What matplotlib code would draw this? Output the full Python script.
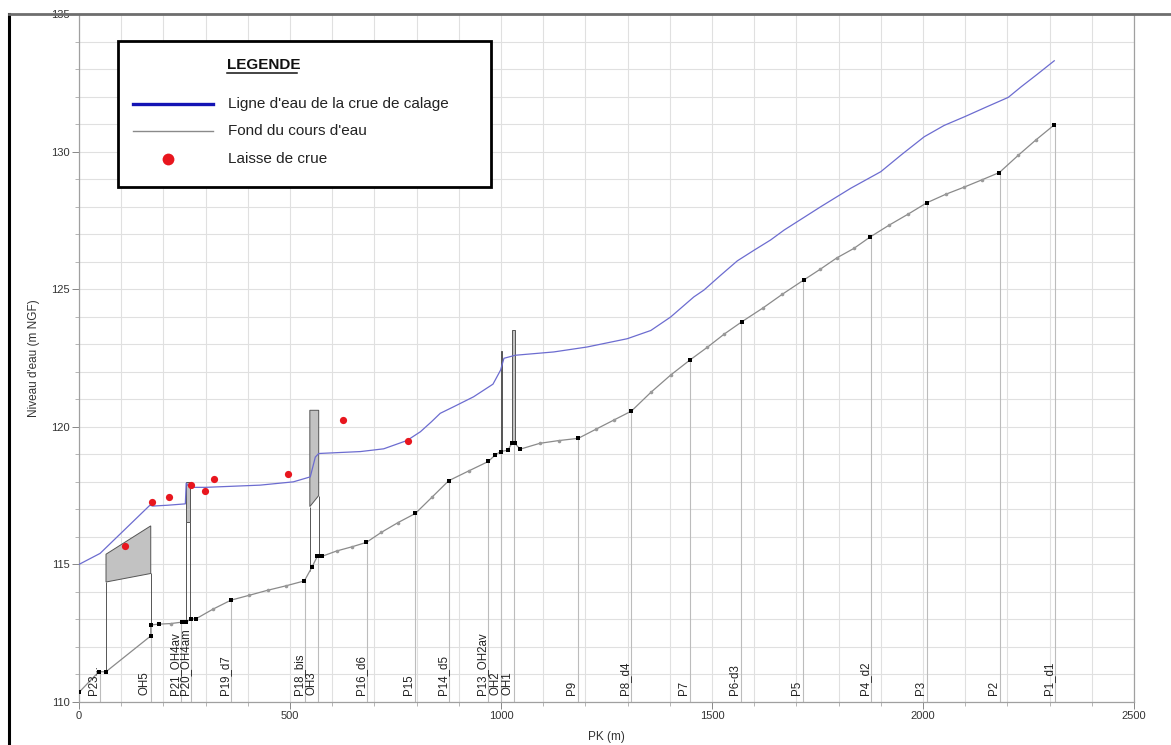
import matplotlib
matplotlib.use("Agg")
import matplotlib.pyplot as plt
import numpy as np
from matplotlib.lines import Line2D
from matplotlib.patches import Rectangle
from matplotlib.ticker import MultipleLocator

plt.rcParams["font.family"] = ["Liberation Sans", "DejaVu Sans"]

# --- fond du cours d'eau (PK m, cote m NGF, 1 = profil nommé / 0 = profil interpolé)
bed_pk = [0, 47, 64, 170, 170, 190, 217, 243, 254, 265, 277, 317, 360, 404, 447, 490,
          534, 552, 565, 572, 577, 611, 647, 681, 716, 756, 797, 837, 876, 924, 970,
          985, 999, 1016, 1026, 1032, 1046, 1092, 1137, 1183, 1226, 1268, 1309, 1355,
          1402, 1448, 1489, 1529, 1571, 1620, 1667, 1718, 1756, 1796, 1836, 1875, 1920,
          1965, 2009, 2054, 2096, 2139, 2181, 2226, 2268, 2311]
bed_z = [110.35, 111.1, 111.1, 112.4, 112.8, 112.83, 112.85, 112.9, 112.9, 113.02, 113.02,
         113.37, 113.7, 113.88, 114.06, 114.22, 114.4, 114.9, 115.3, 115.3, 115.3, 115.49,
         115.64, 115.8, 116.16, 116.52, 116.85, 117.45, 118.04, 118.4, 118.74, 118.96,
         119.1, 119.15, 119.4, 119.4, 119.19, 119.4, 119.5, 119.58, 119.92, 120.25, 120.57,
         121.25, 121.88, 122.43, 122.89, 123.37, 123.82, 124.31, 124.82, 125.34, 125.72,
         126.14, 126.48, 126.9, 127.33, 127.73, 128.14, 128.45, 128.7, 128.97, 129.24,
         129.87, 130.43, 130.97]
bed_kind = [1, 1, 1, 1, 1, 1, 0, 1, 1, 1, 1, 0, 1, 0, 0, 0, 1, 1, 1, 1, 1, 0, 0, 1, 0, 0,
            1, 0, 1, 0, 1, 1, 1, 1, 1, 1, 1, 0, 0, 1, 0, 0, 1, 0, 0, 1, 0, 0, 1, 0, 0, 1,
            0, 0, 0, 1, 0, 0, 1, 0, 0, 0, 1, 0, 0, 1]

# --- ligne d'eau de la crue de calage
ws_pk = [0, 50, 168, 175, 210, 252, 254, 262, 300, 429, 508, 548, 560, 568, 667, 722,
         777, 809, 835, 856, 888, 935, 981, 999, 1007, 1034, 1125, 1204, 1299, 1355, 1402,
         1457, 1481, 1520, 1560, 1600, 1639, 1671, 1758, 1829, 1900, 1950, 2003, 2050,
         2099, 2150, 2202, 2233, 2270, 2311]
ws_z = [115.0, 115.4, 117.15, 117.12, 117.15, 117.2, 117.95, 117.8, 117.8, 117.88, 118.0,
        118.18, 118.9, 119.03, 119.1, 119.2, 119.5, 119.82, 120.18, 120.49, 120.73, 121.09,
        121.55, 122.06, 122.49, 122.6, 122.72, 122.9, 123.2, 123.5, 123.99, 124.72, 124.97,
        125.5, 126.03, 126.42, 126.79, 127.15, 128.0, 128.67, 129.27, 129.9, 130.54,
        130.95, 131.27, 131.62, 131.97, 132.36, 132.8, 133.3]

# --- laisses de crue
fm_pk = [109, 174, 214, 265, 299, 319, 496, 625, 779]
fm_z = [115.67, 117.27, 117.45, 117.9, 117.66, 118.12, 118.3, 120.25, 119.5]

# --- ouvrages (PK gauche/droite, cote haute g/d, cote basse g/d)
ouv_pk_l = [64, 253, 547, 999, 1027]
ouv_pk_r = [170, 263, 568, 1003, 1032]
ouv_top_l = [115.37, 118.0, 120.6, 122.77, 123.52]
ouv_top_r = [116.4, 118.0, 120.6, 122.77, 123.52]
ouv_bot_l = [114.36, 116.55, 117.1, 119.1, 119.4]
ouv_bot_r = [114.67, 116.55, 117.5, 119.1, 119.4]

# --- profils nommés
prof_names = ["P23...", "OH5", "P21_OH4av", "P20_OH4am", "P19_d7", "P18_bis", "OH3",
              "P16_d6", "P15", "P14_d5", "P13_OH2av", "OH2", "OH1", "P9", "P8_d4", "P7",
              "P6-d3", "P5", "P4_d2", "P3", "P2", "P1_d1"]
prof_pk = [50, 170, 242, 265, 361, 535, 566, 682, 797, 876, 970, 1000, 1030, 1183, 1309,
           1448, 1569, 1716, 1876, 2010, 2183, 2313]

W, H = 1171, 745
fig = plt.figure(figsize=(W / 100, H / 100), dpi=100, facecolor="white")
ax = fig.add_axes([79 / W, 43 / H, 1055 / W, 688 / H])

bed_pk_a = np.asarray(bed_pk, float)
bed_z_a = np.asarray(bed_z, float)
kind = np.asarray(bed_kind)

# lignes verticales des profils nommés
ptop = np.interp(prof_pk, bed_pk_a, bed_z_a)
ax.vlines(prof_pk, 110, ptop, colors="#bcbcbc", linewidth=0.8, zorder=1.5)

# ouvrages
for l, r, tl, tr, bl, br in zip(ouv_pk_l, ouv_pk_r, ouv_top_l, ouv_top_r, ouv_bot_l, ouv_bot_r):
    ax.fill([l, r, r, l], [tl, tr, br, bl], facecolor="#c2c2c2", edgecolor="#555555",
            linewidth=0.7, zorder=2)
    zl, zr = np.interp([l, r], bed_pk_a, bed_z_a)
    ax.vlines([l, r], [zl, zr], [bl, br], colors="#555555", linewidth=0.7, zorder=2)

# ligne d'eau
ax.plot(ws_pk, ws_z, color="#6c6cd0", linewidth=0.9, zorder=3)

# fond
ax.plot(bed_pk, bed_z, color="#8a8a8a", linewidth=0.9, zorder=4)
ax.plot(bed_pk_a[kind == 0], bed_z_a[kind == 0], "o", color="#9a9a9a", markersize=2.6,
        markeredgewidth=0, zorder=5)
ax.plot(bed_pk_a[kind == 1], bed_z_a[kind == 1], "s", color="black", markersize=3.2,
        markeredgewidth=0, zorder=5)

# laisses de crue
ax.plot(fm_pk, fm_z, "o", color="#e8161e", markersize=5.2, markeredgewidth=0, zorder=6)

# noms des profils
for name, pk in zip(prof_names, prof_pk):
    ax.text(pk, 110.25, name, rotation=90, ha="right", va="bottom", fontsize=8.3,
            color="#222222", zorder=6)

ax.set_xlim(0, 2500)
ax.set_ylim(110, 135)
ax.xaxis.set_major_locator(MultipleLocator(500))
ax.xaxis.set_minor_locator(MultipleLocator(100))
ax.yaxis.set_major_locator(MultipleLocator(5))
ax.yaxis.set_minor_locator(MultipleLocator(1))
ax.grid(which="both", color="#e0e0e0", linewidth=0.8, zorder=0)
ax.set_axisbelow(True)
ax.tick_params(which="major", length=5, width=0.7, color="#888888", labelsize=8,
               labelcolor="#333333", pad=1.5)
ax.tick_params(which="minor", length=3, width=0.6, color="#aaaaaa")
for sp in ax.spines.values():
    sp.set_color("#a0a0a0")
    sp.set_linewidth(0.9)

ax.set_xlabel("PK (m)", fontsize=8.5, color="#333333", labelpad=7)
ax.set_ylabel("Niveau d'eau (m NGF)", fontsize=8.5, color="#333333", labelpad=8)

# cadre extérieur
fig.add_artist(Line2D([9 / W, 9 / W], [0, 1 - 14 / H], color="black", linewidth=2.2))
fig.add_artist(Line2D([9 / W, 1], [1 - 14 / H, 1 - 14 / H], color="#6e6e6e", linewidth=2))


def fx(px):
    return px / W


def fy(py):
    return 1 - py / H


# légende
fig.add_artist(Rectangle((fx(118), fy(187)), fx(491) - fx(118), fy(41) - fy(187),
                         facecolor="white", edgecolor="black", linewidth=2, zorder=10))
fig.text(fx(227), fy(65), "LEGENDE", fontsize=11, fontweight="bold", ha="left",
         va="center", color="#111111", zorder=11)
fig.add_artist(Line2D([fx(227), fx(297)], [fy(73), fy(73)], color="#111111",
                      linewidth=1.1, zorder=11))
fig.add_artist(Line2D([fx(133), fx(213)], [fy(104), fy(104)], color="#1414b4",
                      linewidth=2.4, zorder=11))
fig.add_artist(Line2D([fx(133), fx(213)], [fy(131), fy(131)], color="#8a8a8a",
                      linewidth=1.0, zorder=11))
fig.add_artist(Line2D([fx(168)], [fy(159)], marker="o", color="#e8161e", markersize=8.5,
                      markeredgewidth=0, linestyle="none", zorder=11))
leg_labels = ["Ligne d'eau de la crue de calage", "Fond du cours d'eau", "Laisse de crue"]
for lab, py in zip(leg_labels, [104, 131, 159]):
    fig.text(fx(228), fy(py), lab, fontsize=11, ha="left", va="center",
             color="#222222", zorder=11)

fig.savefig("out.png", dpi=100, facecolor="white")
